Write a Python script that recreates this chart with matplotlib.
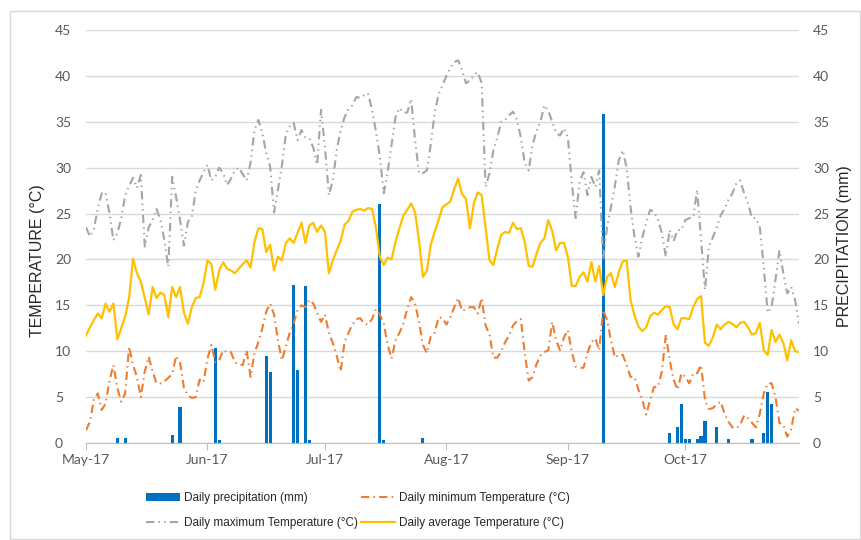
import pandas as pd
import matplotlib
matplotlib.use('Agg')
import matplotlib.pyplot as plt
import matplotlib.dates as mdates
from matplotlib.patches import Rectangle

# daily series, 1 May - 30 Oct 2017
days = pd.date_range('2017-05-01', '2017-10-30', freq='D')

t_max = [
    # May
    23.5, 22.5, 23.3, 25.5, 27.2, 27.3, 25.0, 22.1, 22.8, 24.5,
    27.0, 28.0, 28.9, 27.8, 29.2, 21.4, 23.5, 24.3, 25.5, 24.3,
    22.1, 19.2, 29.0, 26.8, 24.3, 21.5, 24.1, 24.6, 27.5, 28.6, 29.5,
    # Jun
    30.3, 28.6, 29.0, 30.0, 29.4, 28.1, 28.8, 29.7, 30.0, 29.3,
    28.6, 30.5, 34.1, 35.2, 33.8, 31.6, 30.1, 25.1, 27.6, 30.2,
    33.6, 34.5, 34.9, 33.0, 34.1, 33.3, 33.2, 32.2, 30.3, 36.3,
    # Jul
    32.2, 27.0, 28.6, 31.9, 34.1, 35.5, 36.4, 36.8, 37.7, 37.6,
    37.9, 38.1, 36.3, 34.0, 31.2, 27.2, 29.5, 32.5, 35.5, 36.5,
    36.0, 36.0, 37.5, 33.0, 29.4, 29.4, 29.7, 32.5, 36.0, 38.0, 39.0,
    # Aug
    40.0, 40.9, 41.5, 41.7, 40.6, 39.2, 39.5, 40.1, 40.4, 39.2,
    27.9, 29.4, 31.9, 33.3, 35.0, 35.2, 35.7, 36.1, 35.2, 33.3,
    30.5, 29.7, 32.5, 34.0, 35.0, 36.8, 36.2, 35.0, 33.8, 33.5, 34.3,
    # Sep
    33.3, 28.3, 24.5, 28.5, 29.5, 27.0, 29.0, 27.9, 29.7, 20.0,
    23.5, 25.7, 28.0, 30.8, 31.9, 30.0, 25.7, 22.5, 20.3, 22.4,
    24.0, 25.4, 25.2, 24.3, 22.9, 20.3, 23.2, 22.0, 23.2, 23.2,
    # Oct
    24.3, 24.5, 24.6, 27.6, 22.1, 16.7, 21.4, 22.4, 23.5, 24.8,
    25.5, 26.5, 27.2, 28.3, 28.6, 27.2, 26.1, 24.5, 24.5, 23.5,
    19.2, 14.2, 14.8, 17.8, 21.0, 18.5, 16.3, 17.0, 15.6, 13.0,
]

t_min = [
    # May
    1.4, 2.3, 4.7, 5.4, 3.6, 4.3, 6.8, 8.5, 6.0, 4.5,
    5.4, 10.5, 8.5, 7.2, 5.0, 7.8, 9.4, 7.8, 6.5, 6.5,
    6.7, 7.1, 7.5, 9.5, 8.8, 6.0, 5.2, 4.9, 5.0, 6.9, 6.6,
    # Jun
    9.2, 10.7, 8.8, 9.0, 10.1, 9.9, 9.9, 8.8, 8.5, 8.5,
    10.1, 7.2, 9.8, 11.0, 12.5, 14.3, 15.2, 14.0, 11.2, 9.0,
    10.5, 12.0, 13.0, 14.5, 15.0, 14.8, 15.6, 15.2, 14.2, 13.2,
    # Jul
    14.0, 12.0, 10.9, 9.5, 7.8, 11.0, 12.0, 12.9, 13.5, 13.6,
    13.0, 12.9, 13.5, 14.6, 14.0, 13.0, 10.7, 9.2, 11.2, 12.0,
    13.0, 14.6, 15.9, 15.2, 13.2, 10.7, 9.8, 11.6, 12.0, 13.7, 13.6,
    # Aug
    12.9, 13.7, 14.8, 15.8, 14.4, 14.6, 14.8, 14.8, 14.1, 15.8,
    12.8, 11.8, 9.3, 9.3, 10.0, 11.0, 11.7, 12.8, 13.3, 13.5,
    9.8, 6.8, 7.2, 8.6, 9.5, 9.9, 10.1, 13.2, 11.2, 10.1, 11.5,
    # Sep
    12.3, 9.9, 8.3, 8.2, 8.2, 9.8, 11.0, 11.4, 10.1, 14.5,
    13.4, 11.2, 9.3, 9.6, 9.6, 8.5, 7.2, 7.2, 5.8, 4.7,
    3.1, 4.7, 6.1, 6.1, 7.8, 11.8, 9.0, 6.9, 5.8, 7.6,
    # Oct
    7.2, 6.5, 7.6, 7.6, 8.5, 4.7, 3.7, 3.8, 4.2, 4.5,
    3.2, 2.3, 1.7, 1.6, 2.0, 3.0, 2.7, 2.2, 1.7, 3.2,
    5.4, 6.5, 6.5, 5.0, 2.2, 2.0, 0.7, 1.5, 3.8, 3.5,
]

t_avg = [
    # May
    11.7, 12.6, 13.4, 14.1, 13.6, 15.2, 14.3, 15.2, 11.3, 12.5,
    13.8, 15.8, 20.1, 18.5, 17.6, 15.8, 14.0, 17.0, 15.8, 16.4,
    16.1, 13.7, 17.0, 15.9, 17.0, 14.2, 13.0, 14.8, 15.8, 15.9, 17.4,
    # Jun
    19.9, 19.5, 16.7, 18.8, 19.7, 19.0, 18.8, 18.5, 19.0, 19.5,
    19.9, 19.1, 21.9, 23.4, 23.3, 20.8, 21.6, 18.8, 20.3, 19.9,
    21.8, 22.3, 21.8, 22.9, 24.0, 21.8, 23.7, 24.0, 23.0, 23.7,
    # Jul
    23.0, 18.5, 19.9, 21.0, 22.0, 23.8, 24.2, 25.2, 25.4, 25.5,
    25.3, 25.6, 25.5, 23.5, 20.3, 19.4, 20.2, 20.0, 21.9, 23.4,
    24.8, 25.4, 26.1, 25.1, 22.1, 18.1, 18.8, 21.6, 23.0, 24.3, 25.7,
    # Aug
    26.0, 26.3, 27.7, 28.8, 27.1, 26.6, 23.4, 26.1, 27.3, 27.0,
    23.5, 19.9, 19.4, 21.2, 22.7, 23.0, 22.9, 24.0, 23.3, 23.4,
    21.9, 19.3, 19.2, 20.6, 21.8, 22.3, 24.3, 23.1, 21.0, 21.8, 21.8,
    # Sep
    20.3, 17.1, 17.1, 18.1, 18.6, 17.6, 19.7, 17.6, 19.3, 16.1,
    18.1, 18.5, 17.0, 18.6, 19.8, 19.9, 15.6, 13.9, 12.7, 12.2,
    12.6, 13.8, 14.2, 14.0, 14.5, 14.9, 14.8, 12.9, 12.4, 13.6,
    # Oct
    13.6, 13.5, 14.8, 15.7, 16.0, 10.9, 10.6, 11.5, 12.9, 12.4,
    12.9, 13.2, 13.0, 12.6, 13.1, 13.2, 12.6, 11.8, 12.0, 13.1,
    10.1, 9.6, 12.3, 11.0, 11.8, 10.9, 9.0, 11.2, 10.0, 9.9,
]

# rainy days only (mm)
rain_dates = ['2017-05-09', '2017-05-11', '2017-05-23', '2017-05-25',
              '2017-06-03', '2017-06-04', '2017-06-16', '2017-06-17',
              '2017-06-23', '2017-06-24', '2017-06-26', '2017-06-27',
              '2017-07-15', '2017-07-16', '2017-07-26', '2017-09-10',
              '2017-09-27', '2017-09-29', '2017-09-30', '2017-10-01',
              '2017-10-02', '2017-10-04', '2017-10-05', '2017-10-06',
              '2017-10-09', '2017-10-12', '2017-10-18', '2017-10-21',
              '2017-10-22', '2017-10-23']
rain_mm = [0.5, 0.5, 0.9, 3.9,
           10.3, 0.3, 9.5, 7.7,
           17.2, 7.9, 17.1, 0.3,
           26.0, 0.3, 0.5, 35.8,
           1.1, 1.7, 4.3, 0.4,
           0.4, 0.4, 0.8, 2.4,
           1.7, 0.4, 0.4, 1.1,
           5.6, 4.2]

rain = pd.Series(rain_mm, index=pd.to_datetime(rain_dates))

W, H = 861, 540
fig = plt.figure(figsize=(W / 100, H / 100), dpi=100)
ax = fig.add_axes([86 / W, 1 - 443 / H, (799 - 86) / W, (443 - 30) / H])
ax2 = ax.twinx()

# precipitation on the right axis, drawn underneath the temperature lines
bars = ax2.bar(rain.index, rain.values, width=0.8, color='#0070C0',
               label='Daily precipitation (mm)', zorder=2)
ax2.set_ylim(0, 45)
ax2.set_yticks(range(0, 46, 5))
ax2.yaxis.grid(True, color='#D9D9D9', lw=1)
ax2.set_axisbelow(True)

l_max, = ax.plot(days, t_max, color='#A5A5A5', lw=1.5,
                 dashes=(4, 2, 0.7, 2, 0.7, 2),
                 label='Daily maximum Temperature (°C)')
l_min, = ax.plot(days, t_min, color='#ED7D31', lw=1.5,
                 dashes=(4, 2, 0.7, 2),
                 label='Daily minimum Temperature (°C)')
l_avg, = ax.plot(days, t_avg, color='#FFC000', lw=1.6,
                 label='Daily average Temperature (°C)')

ax.set_zorder(ax2.get_zorder() + 1)
ax.patch.set_visible(False)

ax.set_ylim(0, 45)
ax.set_yticks(range(0, 46, 5))
ax.set_xlim(days[0], days[-1])
ax.xaxis.set_major_locator(mdates.MonthLocator())
ax.xaxis.set_major_formatter(mdates.DateFormatter('%b-%y'))

for a in (ax, ax2):
    for s in a.spines.values():
        s.set_visible(False)
ax.spines['bottom'].set_visible(True)
ax.spines['bottom'].set_color('#BFBFBF')

tick_font = 'Lato'
ax.tick_params(axis='x', length=5, color='#BFBFBF', labelsize=10,
               labelcolor='#595959', pad=3)
ax.tick_params(axis='y', length=0, pad=22.3, labelsize=10, labelcolor='#595959')
ax2.tick_params(axis='y', length=0, pad=10, labelsize=10, labelcolor='#595959')
for lbl in ax.get_xticklabels() + ax.get_yticklabels() + ax2.get_yticklabels():
    lbl.set_family(tick_font)
for lbl in ax.get_yticklabels():
    lbl.set_ha('left')

fig.text(38 / W, 1 - 261 / H, 'TEMPERATURE (°C)', rotation=90, ha='center',
         va='center', fontsize=11.5, family='Liberation Sans', color='#262626')
fig.text(845 / W, 1 - 246 / H, 'PRECIPITATION (mm)', rotation=90, ha='center',
         va='center', fontsize=11.5, family='Liberation Sans', color='#262626')

handles = [bars, l_max, l_min, l_avg]
labels = [h.get_label() for h in handles]
fig.legend(handles, labels, ncol=2, loc='upper left',
           bbox_to_anchor=(146 / W, 1 - 492 / H), frameon=False,
           prop={'family': 'Liberation Sans', 'size': 8.5},
           handlelength=2.85, handletextpad=0.35, columnspacing=0.3,
           labelspacing=1.1, borderpad=0, borderaxespad=0,
           labelcolor='#262626')

# light chart-area border
fig.patches.append(Rectangle((10 / W, 1 / H), 850 / W, 528 / H,
                             transform=fig.transFigure, fill=False,
                             edgecolor='#D9D9D9', lw=1))

fig.savefig('out.png', dpi=100)
